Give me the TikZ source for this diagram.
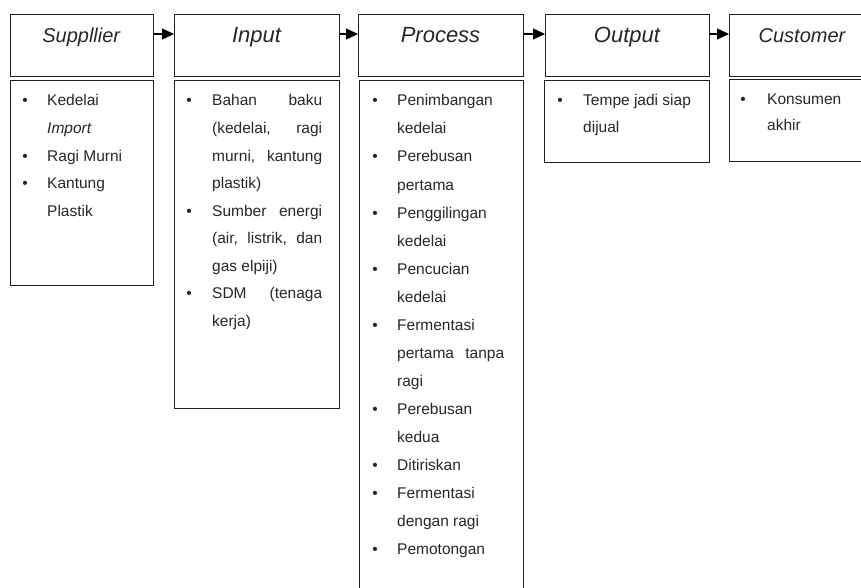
\documentclass[tikz,border=0pt]{standalone}
\usepackage{fontspec}
\setmainfont{Liberation Sans}
\usetikzlibrary{arrows.meta}
\tikzset{
  box/.style={draw=black!88, line width=1.3pt, rectangle, inner sep=0pt, anchor=north west},
  arr/.style={draw=black, line width=1.3pt, -{Triangle[length=12pt,width=11pt]}},
  hdA/.style={anchor=base, inner sep=0pt, text=black!85, font=\fontsize{22}{26}\selectfont\itshape},
  hdB/.style={anchor=base, inner sep=0pt, text=black!85, font=\fontsize{20}{24}\selectfont\itshape},
  li/.style={anchor=base west, inner sep=0pt, text=black!85, font=\fontsize{15.5}{18}\selectfont},
  bul/.style={anchor=base, inner sep=0pt, text=black!85, font=\fontsize{15.5}{18}\selectfont},
}
\newcommand{\jst}[2]{\makebox[#1pt][s]{#2}}
\begin{document}
\begin{tikzpicture}[x=1pt,y=-1pt]
\useasboundingbox (0,0) rectangle (861,588);
\clip (0,0) rectangle (861,588);
% header boxes
\node[box, minimum width=143.5pt, minimum height=62pt] (sup) at (9.5,14) {};
\node[box, minimum width=165pt, minimum height=62pt] (inp) at (174,14) {};
\node[box, minimum width=165pt, minimum height=62pt] (pro) at (358,14) {};
\node[box, minimum width=164pt, minimum height=62pt] (out) at (545,14) {};
\node[box, minimum width=146pt, minimum height=62pt] (cus) at (729,14) {};
% header texts
\node[hdB] (tsup) at (81.25,43) {Suppllier};
\node[hdA] (tinp) at (256.5,43) {Input};
\node[hdA] (tpro) at (440.5,43) {Process};
\node[hdA] (tout) at (627,43) {Output};
\node[hdB] (tcus) at (802,43) {Customer};
% arrows
\draw[arr] ([yshift=-20pt]sup.north east) -- ([yshift=-20pt]inp.north west);
\draw[arr] ([yshift=-20pt]inp.north east) -- ([yshift=-20pt]pro.north west);
\draw[arr] ([yshift=-20pt]pro.north east) -- ([yshift=-20pt]out.north west);
\draw[arr] ([yshift=-20pt]out.north east) -- ([yshift=-20pt]cus.north west);
% body boxes
\node[box, minimum width=143.5pt, minimum height=205pt] (supb) at (9.5,80) {};
\node[box, minimum width=165pt, minimum height=328pt] (inpb) at (174,80) {};
\node[box, minimum width=164pt, minimum height=530pt] (prob) at (359,80) {};
\node[box, minimum width=165pt, minimum height=82pt] (outb) at (544,80) {};
\node[box, minimum width=146pt, minimum height=82pt] (cusb) at (729,79) {};
% supplier list
\node[bul] (sb1) at (25,106) {•};
\node[li] (s1) at (47,106) {Kedelai};
\node[li] (s2) at (47,133.5) {\textit{Import}};
\node[bul] (sb2) at (25,161) {•};
\node[li] (s3) at (47,161) {Ragi Murni};
\node[bul] (sb3) at (25,188.5) {•};
\node[li] (s4) at (47,188.5) {Kantung};
\node[li] (s5) at (47,216) {Plastik};
% input list
\node[bul] (ib1) at (189,106) {•};
\node[li] (i1) at (212,106) {\jst{110}{Bahan baku}};
\node[li] (i2) at (212,133.5) {\jst{110}{(kedelai, ragi}};
\node[li] (i3) at (212,161) {\jst{110}{murni, kantung}};
\node[li] (i4) at (212,188.5) {plastik)};
\node[bul] (ib2) at (189,216) {•};
\node[li] (i5) at (212,216) {\jst{110}{Sumber energi}};
\node[li] (i6) at (212,243.5) {\jst{110}{(air, listrik, dan}};
\node[li] (i7) at (212,271) {gas elpiji)};
\node[bul] (ib3) at (189,298.5) {•};
\node[li] (i8) at (212,298.5) {\jst{110}{SDM (tenaga}};
\node[li] (i9) at (212,326) {kerja)};
% process list
\node[bul] (pb1) at (375,106) {•};
\node[li] (p1) at (397,106) {Penimbangan};
\node[li] (p2) at (397,134) {kedelai};
\node[bul] (pb2) at (375,162) {•};
\node[li] (p3) at (397,162) {Perebusan};
\node[li] (p4) at (397,190) {pertama};
\node[bul] (pb3) at (375,218) {•};
\node[li] (p5) at (397,218) {Penggilingan};
\node[li] (p6) at (397,246) {kedelai};
\node[bul] (pb4) at (375,274) {•};
\node[li] (p7) at (397,274) {Pencucian};
\node[li] (p8) at (397,302) {kedelai};
\node[bul] (pb5) at (375,330) {•};
\node[li] (p9) at (397,330) {Fermentasi};
\node[li] (p10) at (397,358) {\jst{107}{pertama tanpa}};
\node[li] (p11) at (397,386) {ragi};
\node[bul] (pb6) at (375,414) {•};
\node[li] (p12) at (397,414) {Perebusan};
\node[li] (p13) at (397,442) {kedua};
\node[bul] (pb7) at (375,470) {•};
\node[li] (p14) at (397,470) {Ditiriskan};
\node[bul] (pb8) at (375,498) {•};
\node[li] (p15) at (397,498) {Fermentasi};
\node[li] (p16) at (397,526) {dengan ragi};
\node[bul] (pb9) at (375,554) {•};
\node[li] (p17) at (397,554) {Pemotongan};
% output list
\node[bul] (ob1) at (560,106) {•};
\node[li] (o1) at (583,106) {Tempe jadi siap};
\node[li] (o2) at (583,132.5) {dijual};
% customer list
\node[bul] (cb1) at (743,105) {•};
\node[li] (c1) at (767,105) {Konsumen};
\node[li] (c2) at (767,131) {akhir};
\end{tikzpicture}
\end{document}
